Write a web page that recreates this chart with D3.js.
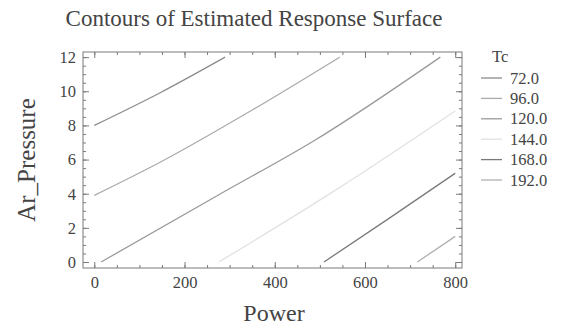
<!DOCTYPE html>
<html>
<head>
<meta charset="utf-8">
<script src="https://cdn.jsdelivr.net/npm/d3@7"></script>
<style>
  body { margin: 0; background: #fff; }
  text { font-family: "Liberation Serif", "DejaVu Serif", serif; fill: #444; }
</style>
</head>
<body>
<div class="chart"></div>
<script>
// contour levels and their traced paths (Power, Ar_Pressure)
var levels = [72, 96, 120, 144, 168, 192];
var levelColors = ['#8c8c8c', '#ababab', '#9a9a9a', '#e2e2e2', '#7a7a7a', '#b0b0b0'];
var contour72 = [[0, 8.0], [145, 9.9], [290, 12]];
var contour96 = [[0, 3.9], [150, 5.9], [350, 8.9], [544, 12]];
var contour120 = [[15, 0], [280, 4.0], [487, 7.1], [767, 12]];
var contour144 = [[276, 0], [540, 4.3], [800, 8.85]];
var contour168 = [[509, 0], [650, 2.5], [800, 5.2]];
var contour192 = [[716, 0], [800, 1.5]];
var contours = [contour72, contour96, contour120, contour144, contour168, contour192];
var xTicks = [0, 200, 400, 600, 800];
var yTicks = [0, 2, 4, 6, 8, 10, 12];

var width = 564, height = 327;
var plotL = 83, plotR = 462, plotT = 52, plotB = 268;

var x = d3.scaleLinear().domain([-25, 815]).range([plotL, plotR]);
var y = d3.scaleLinear().domain([-0.35, 12.3]).range([plotB, plotT]);

var svg = d3.select('.chart')
    .append('svg')
    .attr('width', width)
    .attr('height', height);

// title
svg.append('text')
    .attr('x', 254)
    .attr('y', 26)
    .attr('text-anchor', 'middle')
    .style('font-size', '23px')
    .text('Contours of Estimated Response Surface');

// contour lines
var line = d3.line()
    .x(d => x(d[0]))
    .y(d => y(d[1]))
    .curve(d3.curveMonotoneX);

svg.selectAll('.contour')
    .data(contours)
    .join('path')
    .attr('class', 'contour')
    .attr('d', line)
    .attr('fill', 'none')
    .attr('stroke', (d, i) => levelColors[i])
    .attr('stroke-width', 1.3);

// axes with inward ticks on all four sides
var axisColor = '#7a7a7a';

function styleAxis(g) {
    g.select('.domain').remove();
    g.selectAll('line').attr('stroke', axisColor);
    g.selectAll('text')
        .style('font-size', '16.5px')
        .attr('fill', '#555');
}

var xMinor = d3.range(0, 801, 50);
var yMinor = d3.range(0, 12.01, 0.5);

svg.append('g')
    .attr('transform', 'translate(0,' + plotB + ')')
    .call(d3.axisBottom(x).tickValues(xMinor).tickSize(-3).tickFormat(''))
    .call(styleAxis);
svg.append('g')
    .attr('transform', 'translate(0,' + plotB + ')')
    .call(d3.axisBottom(x).tickValues(xTicks).tickSize(-6).tickPadding(8).tickFormat(d3.format('d')))
    .call(styleAxis);
svg.append('g')
    .attr('transform', 'translate(0,' + plotT + ')')
    .call(d3.axisTop(x).tickValues(xMinor).tickSize(-3).tickFormat(''))
    .call(styleAxis);
svg.append('g')
    .attr('transform', 'translate(0,' + plotT + ')')
    .call(d3.axisTop(x).tickValues(xTicks).tickSize(-6).tickFormat(''))
    .call(styleAxis);

svg.append('g')
    .attr('transform', 'translate(' + plotL + ',0)')
    .call(d3.axisLeft(y).tickValues(yMinor).tickSize(-3).tickFormat(''))
    .call(styleAxis);
svg.append('g')
    .attr('transform', 'translate(' + plotL + ',0)')
    .call(d3.axisLeft(y).tickValues(yTicks).tickSize(-6).tickPadding(7).tickFormat(d3.format('d')))
    .call(styleAxis);
svg.append('g')
    .attr('transform', 'translate(' + plotR + ',0)')
    .call(d3.axisRight(y).tickValues(yMinor).tickSize(-3).tickFormat(''))
    .call(styleAxis);
svg.append('g')
    .attr('transform', 'translate(' + plotR + ',0)')
    .call(d3.axisRight(y).tickValues(yTicks).tickSize(-6).tickFormat(''))
    .call(styleAxis);

// frame
svg.append('rect')
    .attr('x', plotL)
    .attr('y', plotT)
    .attr('width', plotR - plotL)
    .attr('height', plotB - plotT)
    .attr('fill', 'none')
    .attr('stroke', axisColor)
    .attr('stroke-width', 1);

// axis titles
svg.append('text')
    .attr('x', 274)
    .attr('y', 321)
    .attr('text-anchor', 'middle')
    .style('font-size', '24px')
    .text('Power');

svg.append('text')
    .attr('transform', 'translate(35,160) rotate(-90)')
    .attr('text-anchor', 'middle')
    .style('font-size', '25px')
    .text('Ar_Pressure');

// legend
var legend = svg.append('g').attr('class', 'legend');
legend.append('text')
    .attr('x', 492)
    .attr('y', 62)
    .style('font-size', '16.5px')
    .text('Tc');

legend.selectAll('.entry')
    .data(levels)
    .join('g')
    .attr('class', 'entry')
    .attr('transform', (d, i) => 'translate(0,' + (78 + i * 20.4) + ')')
    .call(sel => {
        sel.append('line')
            .attr('x1', 481)
            .attr('x2', 502)
            .attr('stroke', (d, i) => levelColors[i])
            .attr('stroke-width', 1.3);
        sel.append('text')
            .attr('x', 510)
            .attr('y', 5.5)
            .style('font-size', '16.5px')
            .text(d => d3.format('.1f')(d));
    });
</script>
</body>
</html>
